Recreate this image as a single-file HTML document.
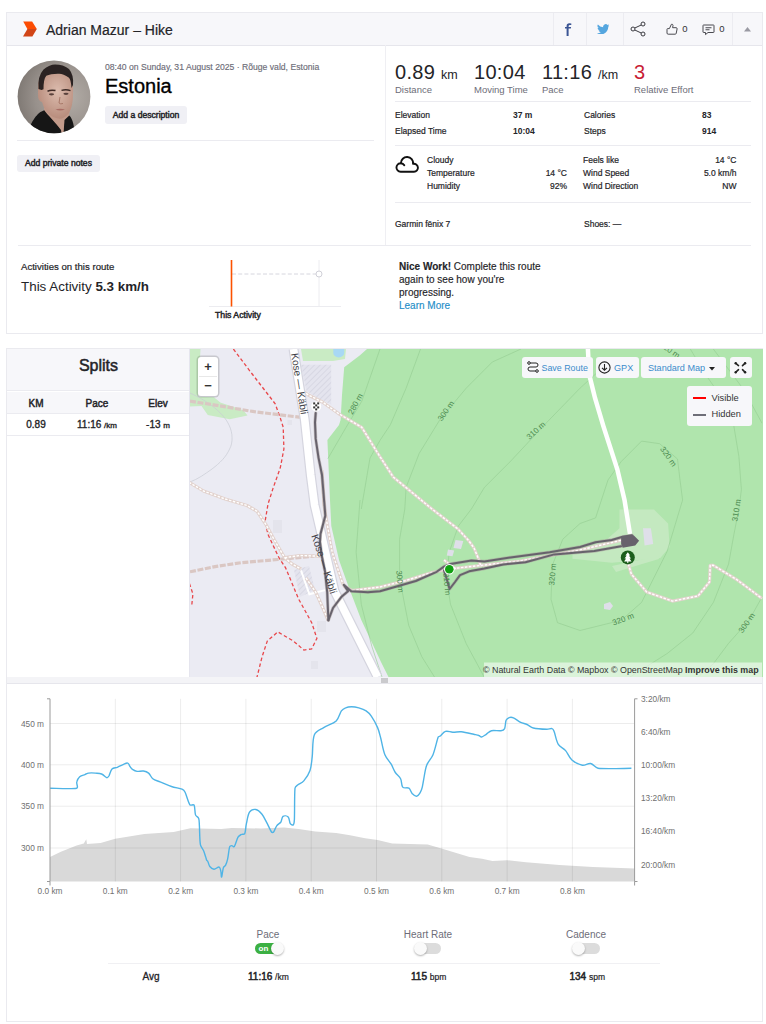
<!DOCTYPE html>
<html><head><meta charset="utf-8">
<style>
*{box-sizing:border-box;margin:0;padding:0}
html,body{width:766px;height:1024px;overflow:hidden;background:#fff;font-family:"Liberation Sans",sans-serif;color:#242428}
.a{position:absolute;white-space:nowrap}
.box{position:absolute;border:1px solid #eaeaef;background:#fff}
.g{color:#6d6d78}
.b{font-weight:bold}
.btn{position:absolute;background:#f0f0f5;border-radius:3px;font-size:8.6px;text-align:center;-webkit-text-stroke:0.45px #242428}
.m{-webkit-text-stroke:0.35px currentColor}
.r{position:absolute;white-space:nowrap;font-size:8.5px;line-height:10px;-webkit-text-stroke:0.2px currentColor}
.hl{position:absolute;height:1px;background:#ebebf0}
.vl{position:absolute;width:1px;background:#ebebf0}
</style></head><body>

<!-- CARD 1 -->
<div class="box" style="left:6px;top:12px;width:757px;height:322px"></div>
<div class="a" style="left:7px;top:13px;width:755px;height:33px;background:#f7f7fa;border-bottom:1px solid #e6e6ec"></div>
<!-- logo chevron -->
<svg class="a" style="left:22px;top:21px" width="16" height="16" viewBox="0 0 16 16">
<polygon points="1.2,0.4 10.1,0.4 14.8,8.1 5.4,8.1" fill="#fc4c02"/>
<polygon points="5.4,8.1 14.8,8.1 10.4,15.6 1,15.6" fill="#d14517"/>
</svg>
<div class="a" style="left:46px;top:22px;font-size:14px;line-height:17px;-webkit-text-stroke:0.2px #242428">Adrian Mazur – Hike</div>

<!-- header right icons -->
<div class="vl" style="left:553px;top:13px;height:32px;background:#ececf1"></div>
<div class="vl" style="left:586px;top:13px;height:32px;background:#ececf1"></div>
<div class="vl" style="left:623px;top:13px;height:32px;background:#ececf1"></div>
<div class="vl" style="left:732px;top:13px;height:32px;background:#ececf1"></div>


<!-- facebook -->
<svg class="a" style="left:564px;top:23px" width="8" height="13" viewBox="0 0 8 13"><path d="M2.6 13V5.6H1V4.1H2.6V3Q2.6 0.3 5.4 0.3Q6.5 0.3 7.3 0.5V2Q6.6 1.9 6 1.9Q4.6 1.9 4.6 3.2V4.1H7.1L6.8 5.6H4.6V13Z" fill="#3b5594"/></svg>
<!-- twitter bird -->
<svg class="a" style="left:596.6px;top:23.5px" width="12.6" height="10.6" viewBox="0 0 24 20"><path fill="#55a6df" d="M24 2.4a9.8 9.8 0 0 1-2.8.8A4.9 4.9 0 0 0 23.3.5a9.9 9.9 0 0 1-3.1 1.2A4.9 4.9 0 0 0 11.8 6.2 14 14 0 0 1 1.7 1a4.9 4.9 0 0 0 1.5 6.6A4.9 4.9 0 0 1 1 7v.1a4.9 4.9 0 0 0 3.9 4.8 4.9 4.9 0 0 1-2.2.1 4.9 4.9 0 0 0 4.6 3.4A9.9 9.9 0 0 1 0 17.5 14 14 0 0 0 7.5 19.7c9.1 0 14-7.5 14-14v-.6A10 10 0 0 0 24 2.4z"/></svg>
<!-- share -->
<svg class="a" style="left:630px;top:21px" width="16" height="16" viewBox="0 0 16 16" fill="none" stroke="#3a3a40" stroke-width="1"><circle cx="3" cy="8" r="2"/><circle cx="13" cy="3" r="2"/><circle cx="13" cy="13" r="2"/><path d="M4.8 7 11.2 4M4.8 9 11.2 12"/></svg>
<!-- kudos -->
<svg class="a" style="left:666px;top:22.5px" width="12" height="12" viewBox="0 0 12 12" fill="none" stroke="#4a4a50" stroke-width="1" stroke-linejoin="round"><path d="M1 6.3Q1 5.6 1.7 5.6H3.4L5.4 1.3Q6.9 0.9 7 2.4L6.6 4.7H10.2Q11.3 4.8 11.1 5.9L10.2 10.4Q10 11.2 9.2 11.2H2.2Q1 11.2 1 10Z"/></svg>
<div class="a" style="left:682.3px;top:23px;font-size:9.5px;line-height:11px;color:#333">0</div>
<!-- comment -->
<svg class="a" style="left:702px;top:24px" width="13" height="12" viewBox="0 0 13 12" fill="none" stroke="#4a4a50" stroke-width="1" stroke-linejoin="round"><path d="M1.5 1h10q.5 0 .5.5v6.5q0 .5-.5.5H6L3.5 10.6V8.5H1.5Q1 8.5 1 8V1.5Q1 1 1.5 1z"/><path d="M3.5 3.7h6M3.5 5.7h4" stroke-width="1.1"/></svg>
<div class="a" style="left:719.3px;top:23px;font-size:9.5px;line-height:11px;color:#333">0</div>
<!-- caret up -->
<svg class="a" style="left:744px;top:27px" width="7" height="5" viewBox="0 0 7 5"><path d="M0 4.5 3.5 0 7 4.5z" fill="#9a9aa3"/></svg>

<!-- avatar -->
<svg class="a" style="left:17px;top:60px" width="74" height="74" viewBox="0 0 74 74">
<defs><clipPath id="cc"><circle cx="37" cy="36.8" r="36.4"/></clipPath>
<radialGradient id="bg" cx="0.7" cy="0.5" r="0.75"><stop offset="0" stop-color="#b3ada7"/><stop offset="0.6" stop-color="#98918c"/><stop offset="1" stop-color="#7a746f"/></radialGradient>
<radialGradient id="sk" cx="0.55" cy="0.4" r="0.6"><stop offset="0" stop-color="#dcbcae"/><stop offset="1" stop-color="#b88c7c"/></radialGradient>
<filter id="bl"><feGaussianBlur stdDeviation="0.7"/></filter></defs>
<g clip-path="url(#cc)">
<rect width="74" height="74" fill="url(#bg)"/>
<g filter="url(#bl)">
<path d="M27 48 L29 62 L40 74 L50 74 L52 56 L53 46z" fill="#c29a8a"/>
<path d="M21 31 Q20 18 27 14 L52 13 Q57 22 56 34 Q56 46 52 53 Q47 59 42.5 58.8 Q35 58 30 52 Q26 47 25 42 Q21 41 21 35z" fill="url(#sk)"/>
<path d="M21.5 29 Q20.5 16 26.5 9.5 Q33 4.5 38 4.6 Q46 4.5 52 9 Q57 15 56 25 L54.5 28 Q54 20 52 17.8 Q46 13.5 41.9 13.7 Q34 13.5 29.3 15.8 Q26.5 19 26.5 29.3 L24.5 30z" fill="#2b2421"/>
<ellipse cx="34.5" cy="34.3" rx="2.6" ry="1.1" fill="#5a423c"/><ellipse cx="49" cy="33.8" rx="2.6" ry="1.1" fill="#5a423c"/>
<path d="M30.5 31.2 Q34 29.6 38.5 30.6 M44.5 30.4 Q49 29 53.5 30.6" stroke="#3f2c28" stroke-width="1.5" fill="none"/>
<path d="M43 37 L42 43 Q43.5 44.5 46 43.5" stroke="#a87868" stroke-width="1" fill="none"/>
<path d="M38.5 49.5 Q43 48 48 49.5 Q43 51.5 38.5 49.5z" fill="#a86c64"/>
<path d="M10 74 L13.7 64.8 Q18 56 23 52.3 L27.2 50.2 Q30 54 32.5 56.5 L39.8 64.8 L44 70 L44.5 74z" fill="#141414"/>
<path d="M46.5 74 L47.5 60 L52.3 55.5 Q55 58 56.5 64.8 L58 74z" fill="#141414"/>
</g></g></svg>

<div class="a g" style="left:105px;top:61.8px;font-size:8.65px;line-height:10px;-webkit-text-stroke:0.15px #6d6d78">08:40 on Sunday, 31 August 2025 · Rõuge vald, Estonia</div>
<div class="a m" style="left:105px;top:75px;font-size:20px;line-height:22px;color:#000">Estonia</div>
<div class="btn" style="left:105px;top:105.5px;width:82px;height:18px;line-height:18px">Add a description</div>
<div class="hl" style="left:17px;top:140px;width:357px"></div>
<div class="btn" style="left:17px;top:155px;width:83px;height:17px;line-height:17px">Add private notes</div>

<!-- right column -->
<div class="vl" style="left:385px;top:45px;height:200px;background:#efeff3"></div>
<div class="a" style="left:395px;top:61px;font-size:20px;line-height:22px;letter-spacing:0.3px;font-weight:300">0.89 <span style="font-size:12.5px;letter-spacing:0">km</span></div>
<div class="a g" style="left:395px;top:84px;font-size:9.5px;line-height:11px">Distance</div>
<div class="a" style="left:474px;top:61px;font-size:20px;line-height:22px;letter-spacing:0.3px">10:04</div>
<div class="a g" style="left:474px;top:84px;font-size:9.5px;line-height:11px">Moving Time</div>
<div class="a" style="left:542px;top:61px;font-size:20px;line-height:22px;letter-spacing:0.3px">11:16 <span style="font-size:12.5px;letter-spacing:0">/km</span></div>
<div class="a g" style="left:542px;top:84px;font-size:9.5px;line-height:11px">Pace</div>
<div class="a" style="left:634px;top:61px;font-size:20px;line-height:22px;letter-spacing:0.3px;color:#c81e34">3</div>
<div class="a g" style="left:634px;top:84px;font-size:9.5px;line-height:11px">Relative Effort</div>
<div class="hl" style="left:395px;top:101px;width:356px"></div>

<div class="r" style="left:395px;top:110px">Elevation</div>
<div class="a b" style="left:513px;top:110px;font-size:8.5px;line-height:10px">37 m</div>
<div class="r" style="left:584px;top:110px">Calories</div>
<div class="a b" style="left:702px;top:110px;font-size:8.5px;line-height:10px">83</div>
<div class="r" style="left:395px;top:126px">Elapsed Time</div>
<div class="a b" style="left:513px;top:126px;font-size:8.5px;line-height:10px">10:04</div>
<div class="r" style="left:584px;top:126px">Steps</div>
<div class="a b" style="left:702px;top:126px;font-size:8.5px;line-height:10px">914</div>
<div class="hl" style="left:395px;top:145px;width:356px"></div>

<!-- weather -->
<svg class="a" style="left:395px;top:155px" width="25" height="19" viewBox="0 0 25 19" fill="none" stroke="#111" stroke-width="1.9" stroke-linejoin="round" stroke-linecap="round"><path d="M5.6 16.8A4.3 4.3 0 1 1 5.9 8.2A6.1 6.1 0 1 1 18.05 8.9A4 4 0 1 1 19 16.8Z"/><path d="M5.9 8.2A4.3 4.3 0 0 1 9.3 10.3"/></svg>
<div class="r" style="left:427px;top:155.3px">Cloudy</div>
<div class="r" style="left:427px;top:168.3px">Temperature</div>
<div class="r" style="left:427px;top:181.3px">Humidity</div>
<div class="r" style="right:199px;top:168.3px">14 °C</div>
<div class="r" style="right:199px;top:181.3px">92%</div>
<div class="r" style="left:583px;top:155.3px">Feels like</div>
<div class="r" style="left:583px;top:168.3px">Wind Speed</div>
<div class="r" style="left:583px;top:181.3px">Wind Direction</div>
<div class="r" style="right:29.5px;top:155.3px">14 °C</div>
<div class="r" style="right:29.5px;top:168.3px">5.0 km/h</div>
<div class="r" style="right:29.5px;top:181.3px">NW</div>
<div class="hl" style="left:395px;top:202px;width:356px"></div>
<div class="r" style="left:395px;top:219px">Garmin fēnix 7</div>
<div class="r" style="left:584px;top:219px">Shoes: —</div>

<div class="hl" style="left:18px;top:245px;width:733px"></div>
<div class="a" style="left:21px;top:261.5px;font-size:9.6px;line-height:10px;-webkit-text-stroke:0.2px #242428">Activities on this route</div>
<div class="a" style="left:21px;top:279.5px;font-size:13.4px;line-height:14px">This Activity <b>5.3 km/h</b></div>
<svg class="a" style="left:205px;top:255px" width="140" height="55" viewBox="0 0 140 55">
<line x1="4" y1="51.5" x2="136" y2="51.5" stroke="#ececf0" stroke-width="1"/>
<line x1="114" y1="5" x2="114" y2="51" stroke="#ececf0" stroke-width="1"/>
<line x1="27" y1="19" x2="111" y2="19" stroke="#d6d6de" stroke-width="1" stroke-dasharray="4,2.2"/>
<circle cx="114" cy="19" r="3" fill="#fff" stroke="#d0d0d8" stroke-width="1"/>
<line x1="26.5" y1="5" x2="26.5" y2="51.5" stroke="#fc5200" stroke-width="1.6"/>
</svg>
<div class="a" style="left:215px;top:309.7px;font-size:8.7px;line-height:10px;-webkit-text-stroke:0.45px #242428">This Activity</div>

<div class="a" style="left:399px;top:260px;font-size:10px;line-height:13px;white-space:normal;width:150px;-webkit-text-stroke:0.15px currentColor"><b>Nice Work!</b> Complete this route again to see how you're progressing.<br><span style="color:#1f8ec8">Learn More</span></div>

<!-- CARD 2 -->
<div class="box" style="left:6px;top:348px;width:757px;height:674px"></div>
<div class="a" style="left:7px;top:349px;width:183px;height:42px;background:#f7f7fa;border-bottom:1px solid #ebebf0"></div>
<div class="a" style="left:7px;top:357px;width:183px;text-align:center;font-size:16px;line-height:18px;-webkit-text-stroke:0.5px #242428">Splits</div>
<div class="a" style="left:7px;top:392px;width:183px;height:22px;background:#f7f7fa;border-bottom:1px solid #ebebf0"></div>
<div class="a" style="left:16px;top:397.5px;width:40px;text-align:center;font-size:10px;line-height:11px;-webkit-text-stroke:0.45px #242428">KM</div>
<div class="a" style="left:72px;top:397.5px;width:50px;text-align:center;font-size:10px;line-height:11px;-webkit-text-stroke:0.45px #242428">Pace</div>
<div class="a" style="left:138px;top:397.5px;width:40px;text-align:center;font-size:10px;line-height:11px;-webkit-text-stroke:0.45px #242428">Elev</div>
<div class="a m" style="left:16px;top:419px;width:40px;text-align:center;font-size:10px;line-height:11px">0.89</div>
<div class="a m" style="left:62px;top:419px;width:70px;text-align:center;font-size:10px;line-height:11px">11:16 <span style="font-size:8px">/km</span></div>
<div class="a m" style="left:128px;top:419px;width:60px;text-align:center;font-size:10px;line-height:11px">-13 <span style="font-size:8px">m</span></div>
<div class="hl" style="left:7px;top:435px;width:183px"></div>

<!-- MAP -->
<svg class="a" style="left:190px;top:349px" width="572.5" height="328" viewBox="190 349 572.5 328">
<defs><pattern id="hatch" width="4" height="4" patternUnits="userSpaceOnUse" patternTransform="rotate(45)"><rect width="4" height="4" fill="#e4e4ee"/><line x1="0" y1="0" x2="0" y2="4" stroke="#d0d1de" stroke-width="1.3"/></pattern></defs>
<rect x="190" y="349" width="573" height="328" fill="#ebebf3"/>
<path d="M190.0 349.0L200.5 349.0L198.0 396.7L214.0 397.2L220.3 402.5L243.3 410.3L247.5 415.5L229.7 419.2L207.8 415.0L201.5 406.1L190.0 406.6Z" fill="#c9ebc4"/>
<path d="M301.0 349.0L346.0 349.0L345.0 359.0L333.0 361.0L303.0 361.0Z" fill="#c9ebc4"/>
<path d="M333.3 349H344.2V353A5.45 4.4 0 0 1 333.3 353Z" fill="#a8d8f4"/>
<path d="M367.0 349.0L763.0 349.0L763.0 677.0L388.5 677.0L386.0 672.0L381.0 662.0L361.3 620.0L348.3 586.0L339.0 560.0L331.3 526.0L330.0 500.0L328.7 470.0L327.4 440.0L339.0 425.0L340.6 420.0L342.0 395.0L344.2 367.3L360.0 355.3Z" fill="#b0e5ad"/>
<path d="M619.5 509.4L654.0 509.4L668.1 523.5L669.7 547.0L660.3 558.0L630.5 561.1L611.7 562.7L572.5 558.7L572.5 553.3L607.0 539.2L619.5 528.2Z" fill="#c4e9c0"/>
<path d="M612 566L640 560L658 556L659 559L642 564L616 572Z" fill="#c4e9c0"/>
<path d="M301 364.7H331.2V404.4L318 398L306.5 391Z" fill="url(#hatch)"/>
<path d="M294 570L309 566L315 590L300 597Z" fill="url(#hatch)"/>
<path d="M301 570.3L309.4 594.3L325 590.1" fill="none" stroke="#fff" stroke-width="2"/>
<g fill="none" stroke="#93cc90" stroke-width="0.7" opacity="0.85">
<path d="M420.5 349.0L406.1 388.2L390.4 424.7L380.0 440.4L370.0 458.0L361.3 509.0"/>
<path d="M521.0 349.0L492.3 362.0L466.2 388.2L440.0 419.5L419.2 453.4L406.1 487.4L404.8 509.0L399.6 539.2L399.6 578.3L408.7 625.3L421.8 656.7L434.8 677.5"/>
<path d="M600.0 370.0L580.0 388.2L547.1 422.1L510.5 461.3L484.4 487.4L471.4 509.0L458.3 526.1L449.2 552.2L446.6 578.3L450.5 604.4L466.2 643.6L484.4 677.5"/>
<path d="M580.0 523.5L562.8 539.2L552.3 565.3L551.0 599.2L557.5 622.7L580.0 630.5L621.2 620.3L641.6 602.4L667.2 551.2L682.6 500.0L680.0 480.0L677.5 459.0L659.6 443.7L641.6 441.1L621.2 461.6L608.0 480.0L595.6 517.9L580.0 523.5"/>
<path d="M690.3 349.0L705.6 374.6L723.5 400.2L733.8 425.8L738.9 456.5L741.4 489.7L738.9 509.0L733.8 535.0L728.6 564.0L713.4 602.4L692.8 633.0L667.2 653.5L630.0 677.0"/>
<path d="M713.3 349.0L728.7 369.5L744.0 390.0L762.0 423.2"/>
<path d="M762.0 597.0L749.1 620.3L728.6 643.3L713.3 663.8L698.0 677.0"/>
<path d="M380.0 349.0L361.8 401.2L346.1 427.3L327.8 458.7"/>
<path d="M360.0 500.0L356.1 552.2L361.3 604.4L371.8 646.2L382.2 677.5"/>
</g>
<g fill="none" stroke="#c9cbd4" stroke-width="0.7">
<path d="M190 393C210 402 224 414 229 425C233 433 233 443 229.6 449C226 457 220 463 212 469C205 474 198 479 190 482"/>
</g>
<g fill="none" stroke="#e8474b" stroke-width="1.3" stroke-dasharray="3.5,2.5">
<path d="M233.4 349.0L249.0 369.9L275.2 403.8L280.3 418.0L283.2 427.2L283.9 449.0L280.3 467.8L273.1 488.1L268.0 504.1L265.1 521.4L268.0 534.5L278.9 557.7L285.6 567.9L298.7 599.2L311.7 622.7L316.9 638.4L311.7 648.8L303.9 650.1L293.4 641.0L277.8 631.9L267.3 641.0L262.1 656.7L256.9 677.5"/>
<path d="M189.5 583.6L192.9 594L191.6 607"/>
</g>
<g fill="none" stroke="#dac7c3" stroke-width="3.2" stroke-dasharray="6,1.6">
<path d="M190.0 401.2L215.1 405.1L254.3 411.7L301.3 417.4"/>
<path d="M190.0 571.8L215.1 566.6L241.2 562.7L277.8 559.5L314.3 556.1"/>
</g>
<g fill="none" stroke-linejoin="round">
<g stroke="#e2d2cd" stroke-width="3.2">
<path d="M303.0 391.0L308.3 395.0L322.4 402.0L338.9 413.8L361.8 427.3L377.0 452.0L393.1 476.9L432.0 509.0L458.0 529.0L469.0 541.0L474.0 548.0L479.0 560.0L481.0 567.0"/>
<path d="M189.0 482.3L203.5 491.0L225.2 499.0L247.0 505.5L257.1 511.3L265.8 524.3L274.5 540.3L284.7 557.7L292.0 564.0L301.3 569.2"/>
<path d="M284.7 557.7L300.0 555.5L314.0 556.0L330.0 557.0"/>
<path d="M306.0 578.0L315.7 592.2L322.0 606.0L328.2 620.4"/>
<path d="M628.3 564.0L631.4 574.2L646.8 592.1L672.4 601.1L698.0 596.0L709.5 581.9L710.2 565.3L713.3 565.3L736.3 579.3L762.0 598.5"/>
<path d="M345.0 587.0L352.0 590.5L380.0 587.0L406.0 580.5L432.0 572.5L449.0 569.0"/>
<path d="M322.0 470.0L324.0 505.0L325.7 515.7L332.2 552.2L342.7 583.6L345.0 587.0"/>
<path d="M449.0 569.0L520.0 561.0L580.0 550.0L631.0 538.0"/>
<path d="M444.0 560.0L449.0 564.0L456.0 569.0"/>
</g><g stroke="#ffffff" stroke-width="1.4" stroke-dasharray="2.5,1.5">
<path d="M303.0 391.0L308.3 395.0L322.4 402.0L338.9 413.8L361.8 427.3L377.0 452.0L393.1 476.9L432.0 509.0L458.0 529.0L469.0 541.0L474.0 548.0L479.0 560.0L481.0 567.0"/>
<path d="M189.0 482.3L203.5 491.0L225.2 499.0L247.0 505.5L257.1 511.3L265.8 524.3L274.5 540.3L284.7 557.7L292.0 564.0L301.3 569.2"/>
<path d="M284.7 557.7L300.0 555.5L314.0 556.0L330.0 557.0"/>
<path d="M306.0 578.0L315.7 592.2L322.0 606.0L328.2 620.4"/>
<path d="M628.3 564.0L631.4 574.2L646.8 592.1L672.4 601.1L698.0 596.0L709.5 581.9L710.2 565.3L713.3 565.3L736.3 579.3L762.0 598.5"/>
<path d="M345.0 587.0L352.0 590.5L380.0 587.0L406.0 580.5L432.0 572.5L449.0 569.0"/>
<path d="M322.0 470.0L324.0 505.0L325.7 515.7L332.2 552.2L342.7 583.6L345.0 587.0"/>
<path d="M449.0 569.0L520.0 561.0L580.0 550.0L631.0 538.0"/>
<path d="M444.0 560.0L449.0 564.0L456.0 569.0"/>
</g></g>
<path d="M293.5 349.0L304.8 420.0L310.7 475.0L314.6 505.0L334.5 591.0L377.6 677.0" fill="none" stroke="#d5d5df" stroke-width="10"/>
<path d="M293.5 349.0L304.8 420.0L310.7 475.0L314.6 505.0L334.5 591.0L377.6 677.0" fill="none" stroke="#ffffff" stroke-width="7.6"/>
<path d="M587.9 349.0L589.2 374.6L595.0 398.0L603.3 425.8L617.3 469.3L624.5 500.0L630.0 534.0" fill="none" stroke="#ffffff" stroke-width="4.5"/>
<g fill="#dfdfe9">
<path d="M643 528.2L650.9 528.2L653.2 543.9L644.6 545.4Z"/>
<path d="M455.5 540L463.3 541L461 549L453.5 548Z"/>
<path d="M448 549.5L454.2 550.5L452.5 556.3L446.8 555.5Z"/>
<path d="M604 604L610 602L613 606L610 610L604 609Z"/>
<rect x="273" y="520" width="9" height="13" fill="#e4e4ec"/>
<rect x="287.5" y="420" width="4.5" height="5" fill="#e4e4ec"/>
<rect x="317" y="621" width="9" height="11" fill="#e4e4ec"/>
<rect x="311" y="661" width="7" height="8" fill="#e4e4ec"/>
</g>
<g fill="none" stroke-linejoin="round" stroke-linecap="round">
<path d="M315.7 413.0L315.0 422.4L315.7 438.9L318.5 457.6L322.0 475.0L324.8 509.0L325.3 515.7L320.5 534.0L320.0 542.0L321.8 556.0L325.0 571.3L327.2 592.2L328.4 620.2" stroke="#a89c9a" stroke-width="3.3" opacity="0.55"/>
<path d="M328.4 620.2L333.0 608.0L341.8 596.4L348.0 591.2L343.9 584.9L351.2 591.2L367.9 592.2L380.0 591.2L397.5 586.2L415.8 581.0L436.7 571.8L444.0 566.6L450.5 564.0L471.4 560.6L484.4 561.4L510.5 557.4L549.7 552.2L580.0 547.0L595.6 542.2L611.7 540.0L622.7 536.8L632.0 535.3" stroke="#a89c9a" stroke-width="3.3" opacity="0.55"/>
<path d="M444.0 570.5L447.0 580.0L449.6 589.0L455.0 582.0L460.0 575.2L469.2 571.3L484.4 568.6L503.3 564.4L525.5 562.2L554.3 554.4L594.3 551.1L621.1 546.2" stroke="#a89c9a" stroke-width="3.3" opacity="0.55"/>
<path d="M315.7 413.0L315.0 422.4L315.7 438.9L318.5 457.6L322.0 475.0L324.8 509.0L325.3 515.7L320.5 534.0L320.0 542.0L321.8 556.0L325.0 571.3L327.2 592.2L328.4 620.2" stroke="#67626c" stroke-width="2"/>
<path d="M328.4 620.2L333.0 608.0L341.8 596.4L348.0 591.2L343.9 584.9L351.2 591.2L367.9 592.2L380.0 591.2L397.5 586.2L415.8 581.0L436.7 571.8L444.0 566.6L450.5 564.0L471.4 560.6L484.4 561.4L510.5 557.4L549.7 552.2L580.0 547.0L595.6 542.2L611.7 540.0L622.7 536.8L632.0 535.3" stroke="#67626c" stroke-width="2"/>
<path d="M444.0 570.5L447.0 580.0L449.6 589.0L455.0 582.0L460.0 575.2L469.2 571.3L484.4 568.6L503.3 564.4L525.5 562.2L554.3 554.4L594.3 551.1L621.1 546.2" stroke="#67626c" stroke-width="2"/>
</g>
<path d="M621.1 536.0L633.6 535.3L639.1 540.7L635.2 545.4L622.7 547.8L621.1 543.9Z" fill="#67626c"/>
<g font-family="Liberation Sans" font-size="10.2" fill="#3e3e46" text-anchor="middle">
<text transform="translate(299.2 383.7) rotate(81)" dy="3.3">Kose — Käbli</text>
<text transform="translate(324 564) rotate(72)" dy="3.3">Kose — Käbli</text>
</g>
<g font-family="Liberation Sans" font-size="8" fill="#4c8a50" text-anchor="middle">
<text transform="translate(355.3 403.8) rotate(-62)" dy="2.8">280 m</text>
<text transform="translate(670.0 350.0) rotate(35)" dy="2.8">320 m</text>
<text transform="translate(445.8 410.9) rotate(-55)" dy="2.8">300 m</text>
<text transform="translate(535.9 430.5) rotate(-42)" dy="2.8">310 m</text>
<text transform="translate(668.5 456.5) rotate(55)" dy="2.8">320 m</text>
<text transform="translate(736.3 510.2) rotate(-80)" dy="2.8">310 m</text>
<text transform="translate(623.0 619.0) rotate(-20)" dy="2.8">320 m</text>
<text transform="translate(746.6 622.8) rotate(-55)" dy="2.8">300 m</text>
<text transform="translate(400.1 581.5) rotate(85)" dy="2.8">300 m</text>
<text transform="translate(447.1 584.0) rotate(85)" dy="2.8">310 m</text>
<text transform="translate(552.3 574.4) rotate(-85)" dy="2.8">320 m</text>
</g>
<circle cx="316.2" cy="406.4" r="5" fill="#fff"/>
<g fill="#333">
<rect x="313.2" y="402.4" width="2" height="2"/>
<rect x="317.2" y="402.4" width="2" height="2"/>
<rect x="315.2" y="404.4" width="2" height="2"/>
<rect x="313.2" y="406.4" width="2" height="2"/>
<rect x="317.2" y="406.4" width="2" height="2"/>
<rect x="315.2" y="408.4" width="2" height="2"/>
</g>
<circle cx="627.8" cy="557.4" r="7" fill="#1c5e1c"/>
<path d="M627.8 552.2l-2.4 3.4h1.3l-2.1 3h1.5l-2 2.9h3.2v1.6h1v-1.6h3.2l-2-2.9h1.5l-2.1-3h1.3z" fill="#fff"/>
<circle cx="449.3" cy="569.2" r="5.3" fill="#fff"/>
<circle cx="449.3" cy="569.2" r="4.3" fill="#11a111"/>
<rect x="484" y="662.5" width="278" height="14.5" fill="#ffffff" opacity="0.55"/>
<text x="758.6" y="673" font-size="8.9" fill="#333" text-anchor="end" font-family="Liberation Sans">© Natural Earth Data © Mapbox © OpenStreetMap <tspan font-weight="bold">Improve this map</tspan></text>
</svg>
<!-- map controls -->
<div class="vl" style="left:189px;top:349px;height:328px;background:#e5e5ee"></div>
<div class="a" style="left:198px;top:357px;width:20px;height:39px;background:#fff;border-radius:3px;box-shadow:0 0 0 1.5px rgba(0,0,0,0.15)"></div>
<div class="hl" style="left:199px;top:376px;width:18px;background:#e8e8e8"></div>
<div class="a" style="left:198px;top:359px;width:20px;text-align:center;font-size:13px;line-height:15px;font-weight:bold;color:#333">+</div>
<div class="a" style="left:198px;top:378px;width:20px;text-align:center;font-size:13px;line-height:15px;font-weight:bold;color:#333">−</div>

<div class="a" style="left:522px;top:357px;width:71px;height:21px;background:#f7f7fa;border-radius:3px"></div>
<svg class="a" style="left:527px;top:361px" width="12" height="12" viewBox="0 0 12 12" fill="none" stroke="#222" stroke-width="1"><circle cx="2" cy="2" r="1.3"/><circle cx="10" cy="10" r="1.3"/><path d="M3.3 2H9a2 2 0 0 1 0 4H3a2 2 0 0 0 0 4h5.7"/></svg>
<div class="a" style="left:541.5px;top:363px;font-size:8.9px;line-height:11px;color:#3b8ccb">Save Route</div>
<div class="a" style="left:595.5px;top:357px;width:43.5px;height:21px;background:#f7f7fa;border-radius:3px"></div>
<svg class="a" style="left:598px;top:361px" width="13" height="13" viewBox="0 0 13 13" fill="none" stroke="#222" stroke-width="1.1"><circle cx="6.5" cy="6.5" r="5.6"/><path d="M6.5 3v6M4 6.8l2.5 2.4 2.5-2.4"/></svg>
<div class="a" style="left:614px;top:363px;font-size:9.1px;line-height:11px;color:#3b8ccb">GPX</div>
<div class="a" style="left:640.5px;top:357px;width:85px;height:21px;background:#f7f7fa;border-radius:3px"></div>
<div class="a" style="left:648px;top:363px;font-size:9.1px;line-height:11px;color:#3b8ccb">Standard Map</div>
<svg class="a" style="left:709px;top:366.5px" width="6" height="4" viewBox="0 0 6 4"><path d="M0 0h6L3 3.5z" fill="#222"/></svg>
<div class="a" style="left:730px;top:357px;width:21.5px;height:21px;background:#f7f7fa;border-radius:3px"></div>
<svg class="a" style="left:734px;top:361px" width="13" height="13" viewBox="0 0 13 13" fill="#222" stroke="#222" stroke-width="1.6" stroke-linecap="round"><path d="M1.6 2.2L4.5 4.6M11.2 2.2L8.5 4.6M1.6 11.3L4.5 8.7M11.2 11.3L8.5 8.7"/><circle cx="1.7" cy="2.2" r="1.2" stroke="none"/><circle cx="11.1" cy="2.2" r="1.2" stroke="none"/><circle cx="1.7" cy="11.3" r="1.2" stroke="none"/><circle cx="11.1" cy="11.3" r="1.2" stroke="none"/></svg>
<div class="a" style="left:686.5px;top:386px;width:65px;height:40px;background:#f7f7fa;border-radius:3px"></div>
<div class="a" style="left:693px;top:396.5px;width:13px;height:2px;background:#f00"></div>
<div class="a" style="left:693px;top:413.5px;width:13px;height:2px;background:#6e6e78"></div>
<div class="a" style="left:711.5px;top:392.5px;font-size:9.3px;line-height:11px;color:#333">Visible</div>
<div class="a" style="left:711.5px;top:409px;font-size:9.3px;line-height:11px;color:#333">Hidden</div>

<!-- resize bar -->
<div class="a" style="left:7px;top:677px;width:755px;height:7px;background:#f4f4f7;border-bottom:1px solid #e6e6ec"></div>
<div class="a" style="left:381px;top:677.6px;width:7.2px;height:5.3px;background:#cacacd"></div>
<!-- CHART -->
<svg class="a" style="left:0;top:684px" width="766" height="230" viewBox="0 684 766 230">
<polygon points="50.0,881.5 50.0,857.0 60.9,851.8 76.6,845.6 83.8,843.4 86.3,839.3 87.0,844.1 100.6,842.9 115.2,838.7 144.4,834.1 173.7,832.0 190.4,828.3 200.0,828.5 221.3,828.9 231.8,827.9 261.0,828.5 284.0,827.4 298.6,828.9 315.3,831.6 336.2,833.1 350.0,835.2 365.1,838.3 377.6,840.0 392.2,843.5 427.7,844.6 442.3,848.7 469.5,857.1 482.0,858.8 492.5,860.9 507.2,860.2 526.0,862.3 559.4,865.0 592.8,867.1 634.6,868.6 634.6,881.5" fill="#d9d9d9"/>
<g stroke="#000" stroke-opacity="0.075" stroke-width="1">
<line x1="50" y1="723.5" x2="634.6" y2="723.5"/>
<line x1="50" y1="764.8" x2="634.6" y2="764.8"/>
<line x1="50" y1="806.2" x2="634.6" y2="806.2"/>
<line x1="50" y1="848.0" x2="634.6" y2="848.0"/>
<line x1="115.3" y1="698.8" x2="115.3" y2="881.5"/>
<line x1="180.6" y1="698.8" x2="180.6" y2="881.5"/>
<line x1="245.9" y1="698.8" x2="245.9" y2="881.5"/>
<line x1="311.2" y1="698.8" x2="311.2" y2="881.5"/>
<line x1="376.5" y1="698.8" x2="376.5" y2="881.5"/>
<line x1="441.8" y1="698.8" x2="441.8" y2="881.5"/>
<line x1="507.1" y1="698.8" x2="507.1" y2="881.5"/>
<line x1="572.4" y1="698.8" x2="572.4" y2="881.5"/>
</g>
<path d="M50.0 788.2C54.8 788.2 71.8 789.3 76.6 788.2C78.7 787.7 76.2 784.0 76.8 781.9C77.3 779.9 78.2 778.0 79.7 776.7C81.2 775.4 83.3 775.2 84.9 774.6C86.2 774.1 87.1 773.3 88.5 773.1C90.4 772.8 93.0 772.9 95.4 773.1C97.6 773.3 99.6 773.2 101.6 774.0C103.7 774.8 105.5 777.3 106.8 777.7C107.7 777.9 108.4 776.8 108.9 776.0C109.8 774.4 110.5 770.6 112.0 769.0C113.4 767.6 115.5 768.0 117.3 767.3C119.2 766.6 120.6 765.6 122.5 764.8C124.3 764.1 126.4 762.8 127.7 763.1C129.0 763.3 129.0 765.2 129.8 766.2C130.7 767.4 131.6 768.8 132.9 769.7C134.2 770.6 135.5 771.2 137.1 771.4C139.0 771.6 141.3 770.7 143.4 771.0C145.3 771.3 147.1 771.9 148.6 773.1C150.3 774.5 150.9 777.2 152.8 778.7C154.9 780.3 157.5 780.8 160.1 781.9C163.5 783.3 167.6 785.2 171.5 786.5C175.1 787.7 179.6 788.2 182.0 789.2C183.4 789.8 184.4 790.9 185.1 792.3C186.5 795.1 188.3 802.5 189.9 804.8C190.7 806.0 193.4 803.9 194.1 805.2C195.1 807.0 194.7 812.5 195.5 814.9C196.0 816.5 198.1 816.8 198.7 818.4C199.4 820.4 199.2 823.2 199.4 825.8C199.7 830.5 199.6 840.1 200.4 844.6C200.8 847.0 202.6 848.6 203.6 850.8C204.5 852.9 205.1 855.3 205.7 857.0C206.1 858.1 206.3 859.4 206.7 860.2C206.9 860.7 207.6 860.8 207.8 861.3C208.4 862.4 208.7 865.1 209.8 866.5C210.9 867.9 212.3 869.1 214.0 869.2C215.7 869.3 218.0 866.6 219.2 867.1C220.4 867.6 220.5 870.0 220.9 871.7C221.3 873.5 221.2 877.8 221.7 877.0C222.1 876.2 222.7 869.6 223.4 867.5C223.7 866.5 225.0 866.3 225.5 865.4C226.3 863.9 227.1 861.4 227.6 859.1C228.4 855.7 228.9 849.0 229.7 846.6C229.9 845.8 231.0 845.6 231.8 845.6C232.6 845.6 233.7 847.4 234.3 846.6C235.4 845.1 236.8 839.4 238.0 837.2C238.7 835.9 240.0 835.1 241.2 834.5C242.3 833.9 244.2 834.8 244.7 833.7C245.6 831.8 245.6 827.2 246.4 823.7C247.3 819.8 247.8 814.8 249.5 812.2C250.8 810.2 253.6 809.1 255.8 809.5C258.1 809.9 260.3 812.2 262.0 814.3C264.1 816.9 265.6 820.5 267.3 823.7C268.8 826.6 270.4 830.5 271.5 832.0C271.9 832.6 273.1 832.6 273.6 832.0C274.5 830.9 275.4 827.6 276.7 825.8C277.9 824.2 279.8 823.6 280.9 822.0C282.0 820.3 281.7 817.3 283.0 816.4C284.3 815.5 286.9 815.7 288.2 817.0C289.5 818.3 289.4 822.3 290.3 823.7C290.9 824.6 292.7 825.5 293.4 824.7C294.1 823.9 294.3 821.4 294.4 819.5C294.7 812.9 294.4 794.4 295.0 788.2C295.1 786.8 296.5 785.9 297.6 785.0C299.2 783.7 302.1 782.9 303.8 780.9C306.0 778.3 308.6 774.4 310.0 770.4C311.5 766.1 311.6 761.6 312.2 756.8C313.0 750.4 312.2 740.2 314.3 734.9C315.8 731.0 320.2 729.8 323.7 727.6C327.6 725.1 333.0 723.9 336.2 720.9C339.1 718.2 339.7 713.3 341.4 710.9C342.5 709.4 343.9 708.5 345.6 707.8C347.4 707.0 349.4 706.7 351.5 706.7C353.9 706.7 356.3 707.1 358.8 707.8C361.4 708.6 363.9 709.4 366.1 710.9C368.2 712.3 369.8 714.0 371.3 716.1C373.4 719.1 375.9 723.7 377.6 727.6C379.1 731.1 379.7 734.3 380.7 738.0C382.0 742.9 383.0 750.0 384.9 754.7C386.4 758.4 389.3 761.0 391.2 764.2C392.8 767.0 393.6 769.9 395.3 772.5C396.9 774.9 399.3 776.2 400.6 778.7C401.9 781.3 401.2 785.4 402.7 787.1C404.2 788.8 407.2 787.1 408.9 788.2C410.6 789.3 410.7 792.0 412.1 793.4C413.5 794.8 415.2 796.7 416.9 796.1C418.6 795.5 420.5 792.3 421.5 789.8C422.7 786.9 422.9 783.3 423.6 779.8C424.5 775.4 425.0 769.7 426.7 765.2C428.2 761.2 431.4 758.7 433.0 754.7C435.1 749.6 436.9 740.4 438.2 737.0C438.5 736.2 439.7 736.5 440.3 736.0C441.6 735.0 443.2 732.1 445.5 731.4C447.8 730.7 450.2 732.1 452.8 732.2C455.6 732.3 458.3 731.5 461.2 731.8C465.0 732.2 470.5 733.6 473.7 734.3C475.5 734.7 477.5 735.0 478.9 735.5C479.9 735.8 480.5 737.2 481.6 737.0C482.9 736.8 484.6 735.3 486.2 734.3C488.0 733.2 489.3 731.2 491.5 730.7C494.1 730.1 498.5 731.1 500.9 730.7C502.4 730.5 503.9 729.9 504.6 728.6C505.5 726.7 505.3 722.3 506.1 720.3C506.7 719.0 507.9 718.1 509.2 717.6C510.5 717.1 512.0 717.2 513.4 717.8C515.5 718.7 518.3 721.2 520.7 722.4C522.8 723.4 524.9 723.6 527.0 724.5C529.3 725.5 530.8 727.4 533.3 728.0C536.9 728.9 543.4 729.2 546.8 729.3C548.7 729.4 550.8 728.1 552.1 728.6C553.4 729.0 553.7 730.6 554.2 731.8C555.3 734.6 556.2 740.9 558.3 744.3C560.0 747.2 563.4 748.0 565.6 750.6C568.0 753.4 568.9 757.4 571.9 760.0C574.9 762.6 579.0 764.6 582.4 765.2C585.3 765.7 587.9 762.9 590.7 763.5C593.5 764.1 595.0 767.9 598.0 768.3C605.3 769.2 625.4 768.3 631.4 768.3" fill="none" stroke="#4fb4e6" stroke-width="1.4" stroke-linejoin="round"/>
<path d="M47 698.8H50V881.5H47M50 881.5V885.5" fill="none" stroke="#9a9a9a" stroke-width="1"/>
<path d="M637.5 698.8H634.6V881.5H637.5M634.6 881.5V885.5" fill="none" stroke="#9a9a9a" stroke-width="1"/>
<g font-family="Liberation Sans" font-size="8.3" fill="#707070">
<text x="44" y="726.5" text-anchor="end">450 m</text>
<text x="44" y="767.8" text-anchor="end">400 m</text>
<text x="44" y="809.2" text-anchor="end">350 m</text>
<text x="44" y="851.0" text-anchor="end">300 m</text>
<text x="641" y="701.8">3:20/km</text>
<text x="641" y="734.9">6:40/km</text>
<text x="641" y="768.0">10:00/km</text>
<text x="641" y="801.2">13:20/km</text>
<text x="641" y="834.4">16:40/km</text>
<text x="641" y="867.6">20:00/km</text>
<text x="50.0" y="894" text-anchor="middle">0.0 km</text>
<text x="115.3" y="894" text-anchor="middle">0.1 km</text>
<text x="180.6" y="894" text-anchor="middle">0.2 km</text>
<text x="245.9" y="894" text-anchor="middle">0.3 km</text>
<text x="311.2" y="894" text-anchor="middle">0.4 km</text>
<text x="376.5" y="894" text-anchor="middle">0.5 km</text>
<text x="441.8" y="894" text-anchor="middle">0.6 km</text>
<text x="507.1" y="894" text-anchor="middle">0.7 km</text>
<text x="572.4" y="894" text-anchor="middle">0.8 km</text>
</g></svg>
<div class="a g" style="left:238px;top:929px;width:60px;text-align:center;font-size:10px;line-height:11px">Pace</div>
<div class="a" style="left:255px;top:942.5px;width:24px;height:11.5px;border-radius:6px;background:#3cb043"></div>
<div class="a" style="left:258.5px;top:943px;font-size:8px;line-height:11px;font-weight:bold;color:#fff">on</div>
<div class="a" style="left:271px;top:941.5px;width:13px;height:13px;border-radius:50%;background:#fafafa;box-shadow:0 1px 2px rgba(0,0,0,0.3)"></div>
<div class="a g" style="left:398px;top:929px;width:60px;text-align:center;font-size:10px;line-height:11px">Heart Rate</div>
<div class="a" style="left:416px;top:942.5px;width:25px;height:11.5px;border-radius:6px;background:#dcdcdc"></div>
<div class="a" style="left:413.5px;top:941.5px;width:13px;height:13px;border-radius:50%;background:#fafafa;box-shadow:0 1px 2px rgba(0,0,0,0.3)"></div>
<div class="a g" style="left:556px;top:929px;width:60px;text-align:center;font-size:10px;line-height:11px">Cadence</div>
<div class="a" style="left:574.5px;top:942.5px;width:25px;height:11.5px;border-radius:6px;background:#dcdcdc"></div>
<div class="a" style="left:571.5px;top:941.5px;width:13px;height:13px;border-radius:50%;background:#fafafa;box-shadow:0 1px 2px rgba(0,0,0,0.3)"></div>
<div class="hl" style="left:108px;top:962.5px;width:552px;background:#f0f0f3"></div>
<div class="a" style="left:121px;top:971px;width:60px;text-align:center;font-size:10px;line-height:11px;-webkit-text-stroke:0.3px #242428">Avg</div>
<div class="a" style="left:248px;top:971px;font-size:10px;line-height:11px;-webkit-text-stroke:0.5px #242428">11:16 <span style="font-size:8.5px;-webkit-text-stroke:0.2px #242428">/km</span></div>
<div class="a" style="left:411px;top:971px;font-size:10px;line-height:11px;-webkit-text-stroke:0.5px #242428">115 <span style="font-size:8.5px;-webkit-text-stroke:0.2px #242428">bpm</span></div>
<div class="a" style="left:569.5px;top:971px;font-size:10px;line-height:11px;-webkit-text-stroke:0.5px #242428">134 <span style="font-size:8.5px;-webkit-text-stroke:0.2px #242428">spm</span></div>
</body></html>
